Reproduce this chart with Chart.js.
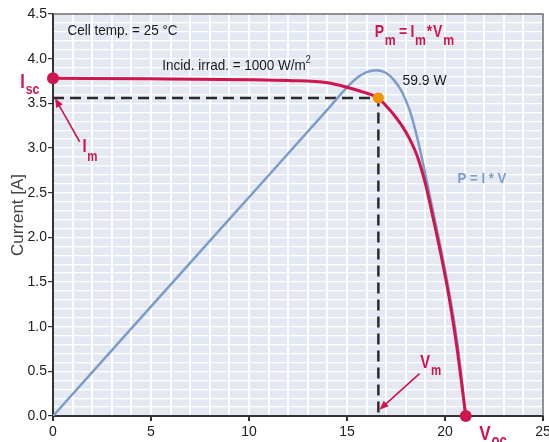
<!DOCTYPE html>
<html>
<head>
<meta charset="utf-8">
<script src="https://cdn.jsdelivr.net/npm/chart.js@4.4.1/dist/chart.umd.min.js"></script>
<style>
  html, body { margin: 0; padding: 0; background: #fff; overflow: hidden; }
  #wrap { width: 549px; height: 442px; }
</style>
</head>
<body>
<div id="wrap"><canvas id="chart" width="549" height="442"></canvas></div>
<script>
// I-V curve of the module (voltage in V, current in A)
const ivVoltage = [0, 5, 10, 12, 14, 15, 15.84, 16.2, 16.6, 17.0, 17.4, 17.8, 18.2, 18.6, 19.0, 19.4, 19.8, 20.2, 20.6, 21.06];
const ivCurrent = [3.78, 3.775, 3.765, 3.755, 3.73, 3.68, 3.625, 3.60, 3.56, 3.47, 3.37, 3.25, 3.10, 2.90, 2.60, 2.21, 1.80, 1.34, 0.78, 0];

// P = I*V curve, plotted on the current scale
const powerVoltage = [0, 8.94, 14.0, 15.0, 15.6, 16.0, 16.5, 17.0, 17.4, 17.8, 18.2, 18.6, 19.0, 19.4, 19.8, 20.2, 20.6, 21.06];
const powerScaled  = [0, 2.19, 3.43, 3.68, 3.80, 3.85, 3.87, 3.84, 3.76, 3.63, 3.42, 3.10, 2.70, 2.28, 1.86, 1.40, 0.86, 0];

// key points [V, A]
const shortCircuit = [0, 3.78];
const openCircuit = [21.06, 0];
const maxPowerPoint = [16.6, 3.56];
const maxPowerWatts = 59.9;

// tick labels
const xTickLabels = [0, 5, 10, 15, 20, 25];
const yTickLabels = [0, 0.5, 1, 1.5, 2, 2.5, 3, 3.5, 4, 4.5];

const RED = '#d0154e';
const BLUE = '#7b9dc9';
const ORANGE = '#f39200';
const SANS = '"Liberation Sans", Arial, sans-serif';

const toXY = (xs, ys) => xs.map((x, i) => ({ x: x, y: ys[i] }));
const near = (v, list) => list.some(t => Math.abs(t - v) < 1e-6);

// light blue plot background + thin frame on top/right
const plotFrame = {
    id: 'plotFrame',
    beforeDraw(chart) {
        const { ctx, chartArea: a } = chart;
        ctx.save();
        ctx.fillStyle = '#e3e8f2';
        ctx.fillRect(a.left, a.top, a.right - a.left, a.bottom - a.top);
        ctx.restore();
    },
    beforeDatasetsDraw(chart) {
        const { ctx, chartArea: a } = chart;
        ctx.save();
        ctx.strokeStyle = '#6e6e6e';
        ctx.lineWidth = 1.5;
        ctx.beginPath();
        ctx.moveTo(a.left, a.top);
        ctx.lineTo(a.right, a.top);
        ctx.lineTo(a.right, a.bottom);
        ctx.stroke();
        ctx.restore();
    }
};

// condensed text with sub/superscripts (the original uses a narrow face)
function drawParts(ctx, x, y, parts, color, squeeze) {
    const sx = squeeze || 0.9;
    ctx.save();
    ctx.translate(x, y);
    ctx.scale(sx, 1);
    ctx.fillStyle = color;
    ctx.textAlign = 'left';
    ctx.textBaseline = 'alphabetic';
    let cx = 0;
    for (const p of parts) {
        ctx.font = p.font;
        ctx.fillText(p.text, cx, p.dy || 0);
        cx += ctx.measureText(p.text).width + (p.gap || 0);
    }
    ctx.restore();
}

function arrow(ctx, x1, y1, x2, y2, color) {
    const ang = Math.atan2(y2 - y1, x2 - x1);
    const len = 10;
    ctx.save();
    ctx.strokeStyle = color;
    ctx.fillStyle = color;
    ctx.lineWidth = 1.6;
    ctx.beginPath();
    ctx.moveTo(x1, y1);
    ctx.lineTo(x2 - Math.cos(ang) * len * 0.7, y2 - Math.sin(ang) * len * 0.7);
    ctx.stroke();
    ctx.beginPath();
    ctx.moveTo(x2, y2);
    ctx.lineTo(x2 - len * Math.cos(ang - 0.38), y2 - len * Math.sin(ang - 0.38));
    ctx.lineTo(x2 - len * Math.cos(ang + 0.38), y2 - len * Math.sin(ang + 0.38));
    ctx.closePath();
    ctx.fill();
    ctx.restore();
}

// text labels and arrows, anchored in data units
const annotations = {
    id: 'annotations',
    afterDatasetsDraw(chart) {
        const { ctx } = chart;
        const X = v => chart.scales.x.getPixelForValue(v);
        const Y = v => chart.scales.y.getPixelForValue(v);
        const reg = s => s + 'px ' + SANS;
        const bold = s => 'bold ' + s + 'px ' + SANS;

        drawParts(ctx, X(0.74), Y(4.26), [{ text: 'Cell temp. = 25 °C', font: reg(15) }], '#1a1a1a');
        drawParts(ctx, X(5.57), Y(3.876), [
            { text: 'Incid. irrad. = 1000 W/m', font: reg(15) },
            { text: '2', font: reg(10), dy: -7 }
        ], '#1a1a1a');
        drawParts(ctx, X(17.83), Y(3.71), [{ text: maxPowerWatts.toFixed(1) + ' W', font: reg(15) }], '#1a1a1a', 0.93);

        drawParts(ctx, X(16.41), Y(4.24), [
            { text: 'P', font: bold(17), gap: 1 },
            { text: 'm', font: bold(15), dy: 8, gap: 4 },
            { text: '=', font: bold(17), gap: 4 },
            { text: 'I', font: bold(17), gap: 1 },
            { text: 'm', font: bold(15), dy: 8, gap: 1 },
            { text: '*', font: bold(17), gap: 1 },
            { text: 'V', font: bold(17), gap: 1 },
            { text: 'm', font: bold(15), dy: 8 }
        ], RED, 0.82);

        drawParts(ctx, X(20.64), Y(2.61), [{ text: 'P = I * V', font: bold(15) }], BLUE, 0.88);

        drawParts(ctx, X(-1.67), Y(3.675), [
            { text: 'I', font: bold(20), gap: 1 },
            { text: 'sc', font: bold(15), dy: 6 }
        ], RED, 0.82);

        drawParts(ctx, X(1.5), Y(2.96), [
            { text: 'I', font: bold(18), gap: 1 },
            { text: 'm', font: bold(14), dy: 9 }
        ], RED, 0.82);
        arrow(ctx, X(1.36), Y(3.07), X(0.1), Y(maxPowerPoint[1]), RED);

        drawParts(ctx, X(18.74), Y(0.54), [
            { text: 'V', font: bold(18), gap: 1 },
            { text: 'm', font: bold(14), dy: 7 }
        ], RED, 0.82);
        arrow(ctx, X(18.7), Y(0.475), X(maxPowerPoint[0] + 0.05), Y(0.07), RED);

        drawParts(ctx, X(21.75), Y(-0.27), [
            { text: 'V', font: bold(21), gap: 1 },
            { text: 'oc', font: bold(16), dy: 6 }
        ], RED, 0.82);
    }
};

new Chart(document.getElementById('chart'), {
    type: 'scatter',
    data: {
        datasets: [
            {
                data: toXY([0, maxPowerPoint[0], maxPowerPoint[0]], [maxPowerPoint[1], maxPowerPoint[1], 0]),
                showLine: true,
                borderColor: '#2b2b2b',
                borderWidth: 2.5,
                borderDash: [11, 6],
                pointRadius: 0,
                clip: false,
                order: 4
            },
            {
                data: toXY(powerVoltage, powerScaled),
                showLine: true,
                borderColor: BLUE,
                borderWidth: 2.5,
                cubicInterpolationMode: 'monotone',
                pointRadius: 0,
                order: 3
            },
            {
                data: toXY(ivVoltage, ivCurrent),
                showLine: true,
                borderColor: RED,
                borderWidth: 3,
                cubicInterpolationMode: 'monotone',
                pointRadius: 0,
                order: 2
            },
            {
                data: toXY([shortCircuit[0], openCircuit[0]], [shortCircuit[1], openCircuit[1]]),
                showLine: false,
                pointRadius: 6,
                pointBackgroundColor: RED,
                pointBorderWidth: 0,
                clip: false,
                order: 1
            },
            {
                data: toXY([maxPowerPoint[0]], [maxPowerPoint[1]]),
                showLine: false,
                pointRadius: 5.5,
                pointBackgroundColor: ORANGE,
                pointBorderWidth: 0,
                clip: false,
                order: 0
            }
        ]
    },
    options: {
        responsive: false,
        animation: false,
        layout: { padding: { top: 14, right: 1, bottom: 0, left: 0 } },
        plugins: {
            legend: { display: false },
            tooltip: { enabled: false }
        },
        scales: {
            x: {
                type: 'linear',
                min: 0,
                max: 25,
                afterFit: s => { s.height = 26; s.paddingLeft = 0; s.paddingRight = 0; },
                border: { color: '#333', width: 2 },
                grid: {
                    color: '#ffffff',
                    lineWidth: 2,
                    tickLength: 5,
                    tickColor: c => (c.tick && near(c.tick.value, xTickLabels)) ? '#333' : 'rgba(0,0,0,0)'
                },
                ticks: {
                    stepSize: 1,
                    autoSkip: false,
                    maxRotation: 0,
                    padding: 3,
                    color: '#222',
                    font: { family: SANS, size: 14 },
                    callback: v => near(v, xTickLabels) ? String(v) : ''
                }
            },
            y: {
                min: 0,
                max: 4.5,
                afterFit: s => { s.width = 53; },
                border: { color: '#333', width: 2 },
                grid: {
                    color: '#ffffff',
                    lineWidth: 1.2,
                    tickLength: 5,
                    tickColor: c => (c.tick && near(c.tick.value, yTickLabels)) ? '#333' : 'rgba(0,0,0,0)'
                },
                title: {
                    display: true,
                    text: 'Current [A]',
                    color: '#444',
                    font: { family: SANS, size: 17 },
                    padding: { top: 8, bottom: 0 }
                },
                ticks: {
                    stepSize: 0.1,
                    autoSkip: false,
                    padding: 1,
                    color: '#222',
                    font: { family: SANS, size: 14 },
                    callback: v => near(v, yTickLabels) ? v.toFixed(1) : ''
                }
            }
        }
    },
    plugins: [plotFrame, annotations]
});
</script>
</body>
</html>
